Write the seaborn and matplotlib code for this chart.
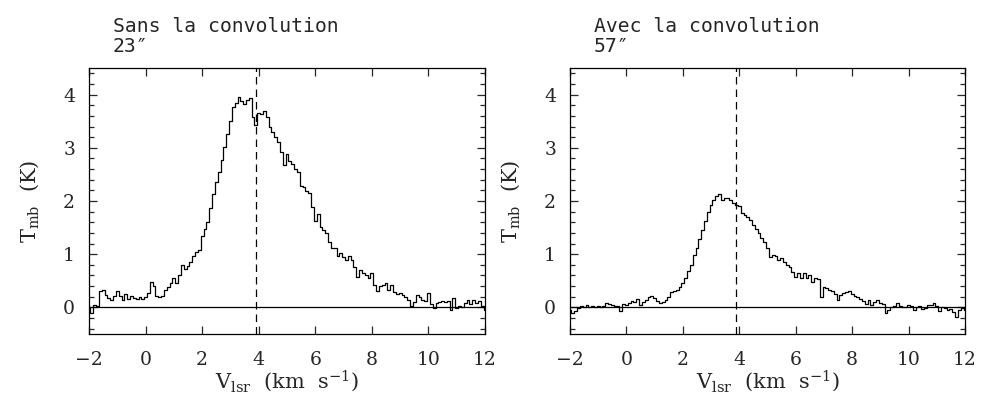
import numpy as np
import pandas as pd
import matplotlib
matplotlib.use("Agg")
import matplotlib.pyplot as plt
from matplotlib.ticker import MultipleLocator
import seaborn as sns

# ---------------- data ----------------
v_start = -2.0
v_step = 0.1
v_center = 3.9

t_sans = [
    -0.02, -0.10, 0.04, 0.02, 0.30, 0.33, 0.24, 0.18, 0.14, 0.22,
    0.30, 0.22, 0.14, 0.26, 0.15, 0.22, 0.18, 0.16, 0.20, 0.15,
    0.20, 0.27, 0.48, 0.40, 0.22, 0.20, 0.22, 0.33, 0.39, 0.46,
    0.55, 0.45, 0.61, 0.80, 0.72, 0.78, 0.85, 0.96, 1.05, 1.08,
    1.35, 1.48, 1.61, 1.86, 2.14, 2.35, 2.55, 2.78, 3.02, 3.25,
    3.50, 3.76, 3.84, 3.96, 3.88, 3.82, 3.89, 3.94, 3.58, 3.42,
    3.66, 3.64, 3.69, 3.58, 3.40, 3.30, 3.20, 3.10, 2.93, 2.67,
    2.89, 2.75, 2.70, 2.60, 2.55, 2.28, 2.26, 2.18, 2.15, 1.88,
    1.62, 1.76, 1.52, 1.45, 1.40, 1.22, 1.12, 1.12, 0.97, 1.02,
    0.95, 0.90, 0.96, 0.90, 0.76, 0.57, 0.71, 0.65, 0.60, 0.55,
    0.64, 0.42, 0.30, 0.40, 0.42, 0.45, 0.32, 0.42, 0.29, 0.26,
    0.27, 0.23, 0.20, 0.14, 0.02, 0.10, 0.23, 0.20, 0.14, 0.12,
    0.27, 0.06, -0.02, 0.08, 0.10, 0.12, 0.10, 0.12, -0.05, 0.17,
    -0.02, 0.02, 0.00, 0.08, 0.14, 0.06, 0.14, 0.08, 0.12, 0.02,
    -0.05,
]

t_avec = [
    -0.05, -0.10, -0.06, -0.02, 0.02, 0.00, 0.04, 0.01, 0.03, 0.00,
    0.02, 0.01, 0.03, 0.09, 0.06, 0.04, 0.03, 0.02, -0.06, 0.06,
    0.05, 0.08, 0.12, 0.10, 0.15, 0.05, 0.10, 0.14, 0.19, 0.21,
    0.17, 0.12, 0.08, 0.10, 0.14, 0.20, 0.29, 0.30, 0.33, 0.39,
    0.46, 0.55, 0.68, 0.80, 0.98, 1.12, 1.28, 1.45, 1.62, 1.80,
    1.92, 2.02, 2.10, 2.13, 2.02, 2.06, 2.05, 2.02, 1.96, 1.92,
    1.90, 1.78, 1.74, 1.70, 1.64, 1.55, 1.48, 1.39, 1.30, 1.22,
    1.12, 0.95, 0.99, 0.96, 0.89, 0.92, 0.86, 0.80, 0.76, 0.67,
    0.58, 0.64, 0.55, 0.64, 0.56, 0.60, 0.48, 0.56, 0.54, 0.20,
    0.39, 0.36, 0.33, 0.30, 0.26, 0.14, 0.24, 0.27, 0.29, 0.31,
    0.26, 0.22, 0.20, 0.16, 0.12, 0.06, 0.14, 0.04, 0.11, 0.14,
    0.08, 0.06, -0.10, -0.04, 0.00, 0.02, 0.09, 0.03, 0.00, 0.00,
    0.04, 0.02, -0.04, 0.01, 0.02, -0.03, -0.02, 0.04, 0.05, 0.09,
    0.02, -0.06, 0.01, -0.01, -0.04, -0.03, -0.08, -0.18, -0.04, -0.02,
    -0.05,
]

titles = ["Sans la convolution\n23\u2033", "Avec la convolution\n57\u2033"]
x_ticks = [-2, 0, 2, 4, 6, 8, 10, 12]
y_ticks = [0, 1, 2, 3, 4]

# ---------------- style ----------------
sns.set_style("ticks")
plt.rcParams["font.family"] = ["DejaVu Serif"]
plt.rcParams["mathtext.fontset"] = "dejavuserif"

fig = plt.figure(figsize=(9.83, 3.97), dpi=100)
positions = [
    [89 / 983, 1 - 334 / 397, 396 / 983, 266 / 397],
    [570 / 983, 1 - 334 / 397, 395 / 983, 266 / 397],
]

for pos, t, title in zip(positions, [t_sans, t_avec], titles):
    ax = fig.add_axes(pos)
    v = v_start + v_step * np.arange(len(t))
    df = pd.DataFrame({"v": v, "T": t})
    sns.lineplot(data=df, x="v", y="T", ax=ax, color="black",
                 linewidth=0.9, drawstyle="steps-mid", estimator=None)
    ax.axhline(0, color="black", linewidth=0.9)
    ax.axvline(v_center, color="black", linewidth=0.9,
               linestyle=(0, (6, 4)))
    ax.set_xlim(-2, 12)
    ax.set_ylim(-0.5, 4.5)
    ax.set_xticks(x_ticks)
    ax.set_xticklabels(["\u22122" if x < 0 else str(x) for x in x_ticks])
    ax.set_yticks(y_ticks)
    ax.yaxis.set_minor_locator(MultipleLocator(0.2))
    ax.tick_params(axis="both", which="major", direction="in", length=6,
                   width=0.9, top=True, right=True, labelsize=13.5)
    ax.tick_params(axis="x", which="major", pad=12)
    ax.tick_params(axis="y", which="major", pad=10)
    ax.tick_params(axis="y", which="minor", direction="in", length=3.5,
                   width=0.9, right=True, left=True)
    for s in ax.spines.values():
        s.set_linewidth(0.9)
        s.set_color("black")
    ax.set_xlabel(r"$\mathrm{V_{lsr}}$  (km  s$^{-1}$)", fontsize=15,
                  labelpad=0)
    ax.set_ylabel(r"$\mathrm{T_{mb}}$  (K)", fontsize=15, labelpad=16)
    ax.text(24 / 396, 1.045, title, transform=ax.transAxes, ha="left",
            va="bottom", fontsize=14.2, family="DejaVu Sans Mono",
            linespacing=1.05)

fig.savefig("out.png", dpi=100)
